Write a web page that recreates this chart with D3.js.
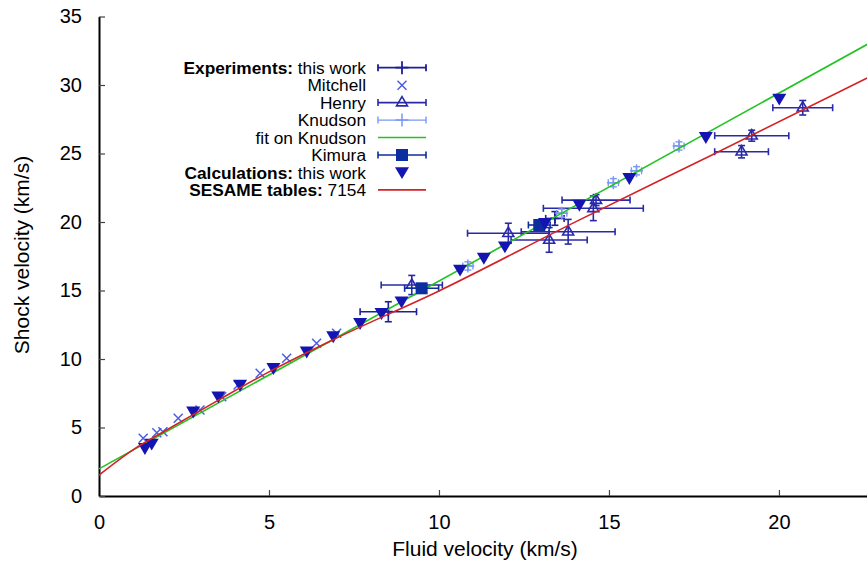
<!DOCTYPE html>
<html>
<head>
<meta charset="utf-8">
<script src="https://cdn.jsdelivr.net/npm/d3@7"></script>
<style>
  body { margin: 0; background: #fff; }
  svg { display: block; font-family: "Liberation Sans", Arial, sans-serif; }
</style>
</head>
<body>
<svg id="chart" width="867" height="563"></svg>
<script>
// ticks
const xTicks = [0, 5, 10, 15, 20];
const yTicks = [0, 5, 10, 15, 20, 25, 30, 35];

// Experiments: this work  [up, Us, dup, dUs]
const expThisWork = [[8.51, 13.45, 0.83, 0.73], [13.41, 20.26, 0.27, 0.5]];

// Mitchell  [up, Us]
const mitchell = [
  [1.30, 4.21], [1.70, 4.62], [1.88, 4.69], [2.33, 5.67], [2.97, 6.28],
  [3.61, 7.25], [4.09, 8.10], [4.74, 8.96], [5.52, 10.05], [6.40, 11.15], [6.99, 11.88]
];

// Henry  [up, Us, dup, dUs]
const henry = [
  [9.20, 15.40, 0.90, 0.70], [12.04, 19.18, 1.20, 0.73], [13.24, 18.69, 1.12, 0.90],
  [13.80, 19.29, 1.38, 0.90], [14.54, 21.00, 1.47, 0.90], [14.62, 21.60, 1.00, 0.40],
  [18.90, 25.13, 0.79, 0.45], [19.20, 26.30, 1.09, 0.40], [20.70, 28.34, 0.88, 0.53]
];

// Knudson  [up, Us, dup, dUs]
const knudson = [
  [10.85, 16.79, 0.15, 0.3], [13.61, 20.64, 0.15, 0.3], [15.13, 22.87, 0.15, 0.3],
  [15.81, 23.74, 0.15, 0.3], [17.06, 25.55, 0.15, 0.3]
];

// fit on Knudson (end points of the straight fit)
const fitKnudson = [[0, 1.98], [22.6, 32.97]];

// Kimura  [up, Us, dup]
const kimura = [[9.49, 15.16, 0.50], [12.95, 19.78, 0.32]];

// Calculations: this work  [up, Us]
const calcThisWork = [
  [1.35, 3.48], [1.55, 3.80], [2.77, 6.15], [3.51, 7.25], [4.15, 8.10], [5.13, 9.32],
  [6.11, 10.53], [6.89, 11.64], [7.68, 12.61], [8.31, 13.34], [8.90, 14.18], [10.62, 16.50],
  [11.32, 17.37], [11.94, 18.20], [13.12, 19.91], [14.13, 21.24], [15.60, 23.19],
  [17.85, 26.18], [20.01, 28.98]
];

// SESAME tables 7154
const sesame = [
  [0, 1.53], [1, 3.37], [2, 4.84], [3.5, 6.98], [5, 9.06], [7, 11.54],
  [10, 14.97], [14, 19.99], [18, 24.86], [22.6, 30.51]
];

const legendLabels = [
  ["Experiments:", " this work"], ["", "Mitchell"], ["", "Henry"], ["", "Knudson"],
  ["", "fit on Knudson"], ["", "Kimura"], ["Calculations:", " this work"], ["SESAME tables:", " 7154"]
];

const col = {
  exp: "#1f1f96", mitchell: "#4b5ee2", henry: "#2a2aa8", knudson: "#7b98f4",
  fit: "#22c322", kimura: "#0c2e9e", calc: "#1414b2", sesame: "#d42226"
};

const svg = d3.select("#chart");
const x = d3.scaleLinear().domain([0, 22.59]).range([99, 867]);
const y = d3.scaleLinear().domain([0, 35]).range([496, 16.5]);

svg.append("defs").append("clipPath").attr("id", "clip")
  .append("rect").attr("x", 99).attr("y", 16).attr("width", 768).attr("height", 480);

// axes
const gx = svg.append("g").attr("transform", "translate(0,496)")
  .call(d3.axisBottom(x).tickValues(xTicks).tickSizeInner(-6).tickSizeOuter(0).tickPadding(19));
const gy = svg.append("g").attr("transform", "translate(99,0)")
  .call(d3.axisLeft(y).tickValues(yTicks).tickSizeInner(-6).tickSizeOuter(0).tickPadding(17));
[gx, gy].forEach(g => {
  g.select(".domain").attr("stroke", "#000").attr("stroke-width", 2);
  g.selectAll(".tick line").attr("stroke", "#444").attr("stroke-width", 1.2);
  g.selectAll(".tick text").attr("font-size", 20).attr("fill", "#000")
    .attr("font-family", "'Liberation Sans', Arial, sans-serif");
});

svg.append("text").attr("x", 485).attr("y", 556).attr("text-anchor", "middle")
  .attr("font-size", 21).text("Fluid velocity (km/s)");
svg.append("text").attr("transform", "translate(29,255) rotate(-90)").attr("text-anchor", "middle")
  .attr("font-size", 21).text("Shock velocity (km/s)");

const plot = svg.append("g").attr("clip-path", "url(#clip)");
const cap = 3.5;

function errBars(g, data, color, w, hasY) {
  data.forEach(d => {
    const cx = x(d[0]), cy = y(d[1]);
    const x0 = x(d[0] - d[2]), x1 = x(d[0] + d[2]);
    g.append("line").attr("x1", x0).attr("x2", x1).attr("y1", cy).attr("y2", cy);
    g.append("line").attr("x1", x0).attr("x2", x0).attr("y1", cy - cap).attr("y2", cy + cap);
    g.append("line").attr("x1", x1).attr("x2", x1).attr("y1", cy - cap).attr("y2", cy + cap);
    if (hasY) {
      const y0 = y(d[1] - d[3]), y1 = y(d[1] + d[3]);
      g.append("line").attr("x1", cx).attr("x2", cx).attr("y1", y0).attr("y2", y1);
      g.append("line").attr("x1", cx - cap).attr("x2", cx + cap).attr("y1", y0).attr("y2", y0);
      g.append("line").attr("x1", cx - cap).attr("x2", cx + cap).attr("y1", y1).attr("y2", y1);
    }
  });
  g.attr("stroke", color).attr("stroke-width", w).attr("fill", "none");
}

const markers = {
  plus: s => `M${-s},0H${s}M0,${-s}V${s}`,
  cross: s => `M${-s},${-s}L${s},${s}M${-s},${s}L${s},${-s}`,
  triUp: s => `M0,${-s * 1.1}L${s},${s * 0.6}L${-s},${s * 0.6}Z`,
  triDown: s => `M${-s},${-s * 0.75}L${s},${-s * 0.75}L0,${s * 0.95}Z`,
  square: s => `M${-s},${-s}H${s}V${s}H${-s}Z`
};

function drawMarks(g, data, path, fill, stroke, w) {
  g.selectAll("path").data(data).join("path")
    .attr("transform", d => `translate(${x(d[0])},${y(d[1])})`)
    .attr("d", path)
    .attr("fill", fill).attr("stroke", stroke).attr("stroke-width", w);
}

// Experiments: this work
errBars(plot.append("g"), expThisWork, col.exp, 1.6, true);
drawMarks(plot.append("g"), expThisWork, markers.plus(4.5), "none", col.exp, 1.8);
// Mitchell
drawMarks(plot.append("g"), mitchell, markers.cross(4.5), "none", col.mitchell, 1.5);
// Henry
errBars(plot.append("g"), henry, col.henry, 1.6, true);
drawMarks(plot.append("g"), henry, markers.triUp(5.5), "none", col.henry, 1.6);
// Knudson
errBars(plot.append("g"), knudson, col.knudson, 1.4, true);
drawMarks(plot.append("g"), knudson, markers.plus(6.5), "none", col.knudson, 1.5);
// fit on Knudson
const line = d3.line().x(d => x(d[0])).y(d => y(d[1]));
plot.append("path").datum(fitKnudson).attr("d", line)
  .attr("fill", "none").attr("stroke", col.fit).attr("stroke-width", 1.6);
// Kimura
errBars(plot.append("g"), kimura.map(d => [d[0], d[1], d[2], 0]), col.kimura, 1.6, false);
drawMarks(plot.append("g"), kimura, markers.square(6), col.kimura, "none", 0);
// Calculations: this work
drawMarks(plot.append("g"), calcThisWork, markers.triDown(7), col.calc, "none", 0);
// SESAME
plot.append("path").datum(sesame).attr("d", line.curve(d3.curveMonotoneX))
  .attr("fill", "none").attr("stroke", col.sesame).attr("stroke-width", 1.6);

// legend
const leg = svg.append("g");
const lx0 = 378, lx1 = 426, lxc = 402, ly0 = 67.7, ldy = 17.46;
legendLabels.forEach((lab, i) => {
  const t = leg.append("text").attr("x", 366).attr("y", ly0 + i * ldy).attr("dy", "0.35em")
    .attr("text-anchor", "end").attr("font-size", 17.3);
  if (lab[0]) t.append("tspan").attr("font-weight", "bold").text(lab[0]);
  t.append("tspan").text(lab[1]);
});
function legErr(i, color, w) {
  const g = leg.append("g").attr("stroke", color).attr("stroke-width", w);
  const cy = ly0 + i * ldy;
  g.append("line").attr("x1", lx0).attr("x2", lx1).attr("y1", cy).attr("y2", cy);
  g.append("line").attr("x1", lx0).attr("x2", lx0).attr("y1", cy - cap).attr("y2", cy + cap);
  g.append("line").attr("x1", lx1).attr("x2", lx1).attr("y1", cy - cap).attr("y2", cy + cap);
  return cy;
}
function legMark(i, path, fill, stroke, w) {
  leg.append("path").attr("transform", `translate(${lxc},${ly0 + i * ldy})`).attr("d", path)
    .attr("fill", fill).attr("stroke", stroke).attr("stroke-width", w);
}
legErr(0, col.exp, 1.8); legMark(0, markers.plus(6.5), "none", col.exp, 1.8);
legMark(1, markers.cross(4.5), "none", col.mitchell, 1.5);
legErr(2, col.henry, 1.6); legMark(2, markers.triUp(5.5), "none", col.henry, 1.6);
legErr(3, col.knudson, 1.4); legMark(3, markers.plus(6.5), "none", col.knudson, 1.5);
leg.append("line").attr("x1", lx0).attr("x2", lx1).attr("y1", ly0 + 4 * ldy).attr("y2", ly0 + 4 * ldy)
  .attr("stroke", col.fit).attr("stroke-width", 1.6);
legErr(5, col.kimura, 1.6); legMark(5, markers.square(6), col.kimura, "none", 0);
legMark(6, markers.triDown(7), col.calc, "none", 0);
leg.append("line").attr("x1", lx0).attr("x2", lx1).attr("y1", ly0 + 7 * ldy).attr("y2", ly0 + 7 * ldy)
  .attr("stroke", col.sesame).attr("stroke-width", 1.6);
</script>
</body>
</html>
